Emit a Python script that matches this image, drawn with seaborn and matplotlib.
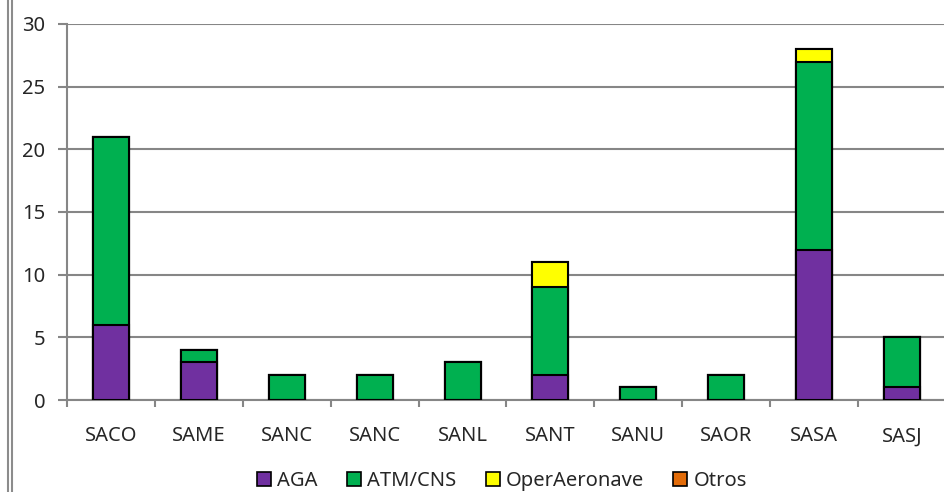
import numpy as np
import pandas as pd
import matplotlib
matplotlib.use("Agg")
import matplotlib.pyplot as plt
from matplotlib.patches import Patch
from matplotlib.lines import Line2D
import seaborn as sns

categories = ["SACO", "SAME", "SANC", "SANC", "SANL", "SANT", "SANU", "SAOR", "SASA", "SASJ"]
aga = [6, 3, 0, 0, 0, 2, 0, 0, 12, 1]
atm_cns = [15, 1, 2, 2, 3, 7, 1, 2, 15, 4]
oper_aeronave = [0, 0, 0, 0, 0, 2, 0, 0, 1, 0]
otros = [0, 0, 0, 0, 0, 0, 0, 0, 0, 0]
series_names = ["AGA", "ATM/CNS", "OperAeronave", "Otros"]
colors = ["#7030A0", "#00B050", "#FFFF00", "#E36C09"]
yticks = [0, 5, 10, 15, 20, 25, 30]

sns.set_style("white")
plt.rcParams["font.family"] = ["Noto Sans", "DejaVu Sans"]

fig = plt.figure(figsize=(9.45, 4.92), dpi=100)
W, H = 945, 492
left_px, right_px = 67, 67 + 879
top_px, bot_px = 24, 400
ax = fig.add_axes([left_px / W, 1 - bot_px / H, (right_px - left_px) / W, (bot_px - top_px) / H])

series = [aga, atm_cns, oper_aeronave, otros]
cum = np.cumsum(np.array(series, dtype=float), axis=0)
idx = list(range(len(categories)))
grid_c = "#868686"

for i in range(3, -1, -1):
    df = pd.DataFrame({"pos": idx, "val": cum[i]})
    sns.barplot(data=df, x="pos", y="val", color=colors[i], saturation=1,
                width=0.41, edgecolor="black", linewidth=1.5, ax=ax, zorder=3)

ax.set_xlim(-0.5, len(categories) - 0.5)
ax.set_ylim(0, 30)
ax.set_yticks(yticks)
ax.set_yticklabels([str(v) for v in yticks])
ax.set_xticks(idx)
ax.set_xticklabels(categories)
ax.set_xticks(np.arange(-0.5, len(categories), 1.0), minor=True)
ax.set_xlabel("")
ax.set_ylabel("")
ax.grid(axis="y", color=grid_c, linewidth=1.5, zorder=0)
ax.set_axisbelow(True)
for s in ["top", "right"]:
    ax.spines[s].set_visible(False)
for s in ["left", "bottom"]:
    ax.spines[s].set_color(grid_c)
    ax.spines[s].set_linewidth(1.5)
ax.tick_params(axis="y", left=True, length=6.5, width=1.5, color=grid_c, pad=9, labelsize=14.5)
ax.tick_params(axis="x", which="major", bottom=False, length=0, pad=19, labelsize=14.5)
ax.tick_params(axis="x", which="minor", bottom=True, length=5, width=1.5, color=grid_c)

handles = [Patch(facecolor=c, edgecolor="black", linewidth=1.2) for c in colors]
fig.legend(handles, series_names, loc="center", bbox_to_anchor=(502 / W, 1 - 481 / H),
           ncol=4, frameon=False, fontsize=14.5, handlelength=0.7, handleheight=0.7,
           handletextpad=0.3, columnspacing=1.45, borderpad=0)

for xp in (8, 11.5):
    fig.add_artist(Line2D([xp / W, xp / W], [0, 1], color="#8c8c8c", linewidth=1.5,
                          transform=fig.transFigure))

fig.savefig("out.png", dpi=100)
